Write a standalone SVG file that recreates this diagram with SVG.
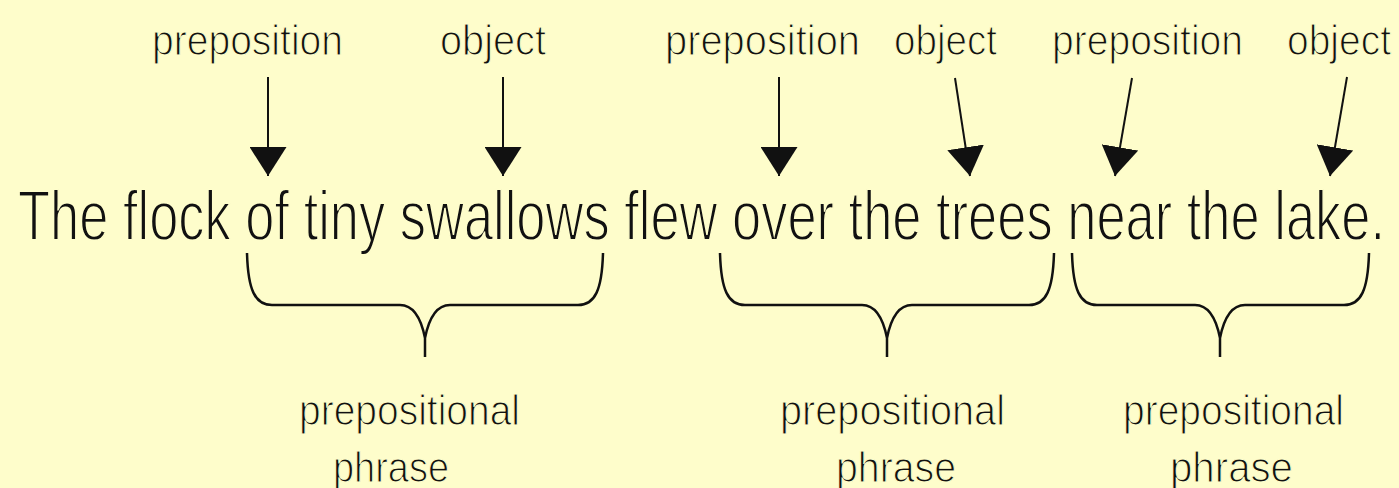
<svg xmlns="http://www.w3.org/2000/svg" width="1399" height="488" viewBox="0 0 1399 488">
  <style>
    .lbl { font-family: "Liberation Sans", Arial, sans-serif; font-size: 43px; fill: #111; stroke: #FEFDCB; stroke-width: 1.2px; }
    .sent { font-family: "Liberation Sans", Arial, sans-serif; font-size: 70px; fill: #111; stroke: #FEFDCB; stroke-width: 1.8px; }
    .arrow { stroke: #111; stroke-width: 2; fill: none; marker-end: url(#head); }
    .brace { stroke: #111; stroke-width: 2.5; fill: none; stroke-linejoin: round; }
  </style>
  <defs>
    <marker id="head" markerUnits="userSpaceOnUse" markerWidth="29" markerHeight="37" viewBox="0 0 29 37" refX="29" refY="18.5" orient="auto">
      <path d="M0,0 L29,18.5 L0,37 Z" fill="#111"/>
    </marker>
  </defs>
  <rect x="0" y="0" width="1399" height="488" fill="#FEFDCB"/>

  <g id="sentence">
    <text class="sent" x="18" y="240" textLength="1367" lengthAdjust="spacingAndGlyphs">The flock of tiny swallows flew over the trees near the lake.</text>
  </g>

  <g id="label-preposition-1"><text class="lbl" x="152" y="55" textLength="191" lengthAdjust="spacingAndGlyphs">preposition</text></g>
  <g id="label-object-1"><text class="lbl" x="440" y="55" textLength="106" lengthAdjust="spacingAndGlyphs">object</text></g>
  <g id="label-preposition-2"><text class="lbl" x="665" y="55" textLength="195" lengthAdjust="spacingAndGlyphs">preposition</text></g>
  <g id="label-object-2"><text class="lbl" x="894" y="55" textLength="103" lengthAdjust="spacingAndGlyphs">object</text></g>
  <g id="label-preposition-3"><text class="lbl" x="1052" y="55" textLength="191" lengthAdjust="spacingAndGlyphs">preposition</text></g>
  <g id="label-object-3"><text class="lbl" x="1287" y="55" textLength="104" lengthAdjust="spacingAndGlyphs">object</text></g>

  <g id="phrase-1">
    <path class="brace" d="M247,253 C248,290 255,305 272,305 H400 C413,305 421,318 425,338 C429,318 437,305 450,305 H578 C595,305 602,290 603,253 M425,338 V357"/>
    <text class="lbl" x="299" y="425" textLength="221" lengthAdjust="spacingAndGlyphs">prepositional</text>
    <text class="lbl" x="333" y="482" textLength="116" lengthAdjust="spacingAndGlyphs">phrase</text>
  </g>
  <g id="phrase-2">
    <path class="brace" d="M720,253 C721,290 728,305 745,305 H862 C875,305 883,318 887,338 C891,318 899,305 912,305 H1029 C1046,305 1053,290 1054,253 M887,338 V357"/>
    <text class="lbl" x="780" y="425" textLength="225" lengthAdjust="spacingAndGlyphs">prepositional</text>
    <text class="lbl" x="836" y="482" textLength="120" lengthAdjust="spacingAndGlyphs">phrase</text>
  </g>
  <g id="phrase-3">
    <path class="brace" d="M1072,253 C1073,290 1080,305 1097,305 H1195 C1208,305 1216,318 1220,338 C1224,318 1232,305 1245,305 H1344 C1361,305 1368,290 1369,253 M1220,338 V357"/>
    <text class="lbl" x="1123" y="425" textLength="221" lengthAdjust="spacingAndGlyphs">prepositional</text>
    <text class="lbl" x="1170" y="482" textLength="123" lengthAdjust="spacingAndGlyphs">phrase</text>
  </g>

  <g id="connectors">
    <line class="arrow" x1="268" y1="77" x2="268" y2="176"/>
    <line class="arrow" x1="503" y1="77" x2="503" y2="176"/>
    <line class="arrow" x1="779" y1="77" x2="779" y2="176"/>
    <line class="arrow" x1="955" y1="78" x2="970" y2="176"/>
    <line class="arrow" x1="1132" y1="78" x2="1115" y2="176"/>
    <line class="arrow" x1="1347" y1="77" x2="1330" y2="176"/>
  </g>
</svg>
